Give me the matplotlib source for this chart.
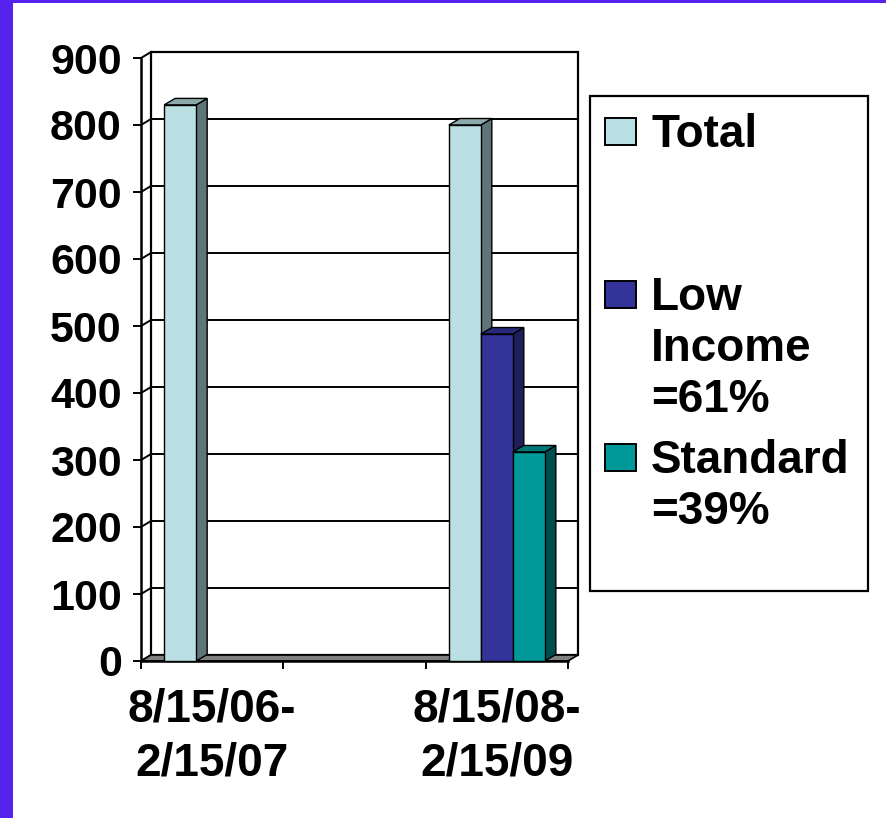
import matplotlib
matplotlib.use('Agg')
import matplotlib.pyplot as plt
from matplotlib.patches import Polygon, Rectangle
import matplotlib.transforms as mtransforms

plt.rcParams['font.family'] = ['Liberation Sans', 'DejaVu Sans']
plt.rcParams['font.weight'] = 'bold'

# ---------------- data ----------------
categories = ['8/15/06-\n2/15/07', '', '8/15/08-\n2/15/09']
series_names = ['Total', 'Low\nIncome\n=61%', 'Standard\n=39%']
total = [830, 0, 800]
low_income = [0, 0, 488]
standard = [0, 0, 312]
y_ticks = [0, 100, 200, 300, 400, 500, 600, 700, 800, 900]

series_values = [total, low_income, standard]
front_colors = ['#BBE0E3', '#333399', '#009999']
side_colors = ['#5E7677', '#1E1E58', '#004F4F']
top_colors = ['#8CA9AB', '#29297C', '#007878']

# ---------------- layout ----------------
W, H = 886, 818
fig = plt.figure(figsize=(W / 100, H / 100), dpi=100)
fig.patch.set_facecolor('white')


def fx(x):
    return x / W


def fy(y):
    return 1 - y / H


ax_l, ax_r, ax_t, ax_b = 141, 568, 58, 661
ax = fig.add_axes([fx(ax_l), fy(ax_b), (ax_r - ax_l) / W, (ax_b - ax_t) / H])
ncat = len(categories)
ymax = y_ticks[-1]
ax.set_xlim(0, ncat)
ax.set_ylim(0, ymax)
ax.patch.set_visible(False)

ux = (ax_r - ax_l) / ncat   # px per category unit
uy = (ax_b - ax_t) / ymax   # px per value unit
wdx, wdy = 10 / ux, 6 / uy        # wall depth
bdx, bdy = 11 / ux, 6.5 / uy      # bar depth
bw = 32 / ux                      # bar width

# back wall
ax.add_patch(Polygon([(wdx, wdy), (ncat + wdx, wdy), (ncat + wdx, ymax + wdy), (wdx, ymax + wdy)],
                     closed=True, fc='white', ec='black', lw=1.6, zorder=0, clip_on=False))
for v in y_ticks[1:]:
    ax.plot([wdx, ncat + wdx], [v + wdy, v + wdy], color='black', lw=1.4, zorder=1, clip_on=False)
# side wall diagonals
for v in y_ticks:
    ax.plot([0, wdx], [v, v + wdy], color='black', lw=1.4, zorder=1, clip_on=False)
# floor
ax.add_patch(Polygon([(0, 0), (ncat, 0), (ncat + wdx, wdy), (wdx, wdy)], closed=True,
                     fc='#808080', ec='black', lw=1.2, zorder=2, clip_on=False))

# bars
for j, vals in enumerate(series_values):
    xs, hs = [], []
    for i, v in enumerate(vals):
        if v > 0:
            xs.append(i + 0.5 - 1.5 * bw + j * bw)
            hs.append(v)
    z = 3 + j
    for x, h in zip(xs, hs):
        ax.add_patch(Polygon([(x + bw, 0), (x + bw + bdx, bdy), (x + bw + bdx, h + bdy), (x + bw, h)],
                             closed=True, fc=side_colors[j], ec='black', lw=1.0, zorder=z, clip_on=False))
        ax.add_patch(Polygon([(x, h), (x + bw, h), (x + bw + bdx, h + bdy), (x + bdx, h + bdy)],
                             closed=True, fc=top_colors[j], ec='black', lw=1.0, zorder=z, clip_on=False))
    ax.bar(xs, hs, width=bw, align='edge', color=front_colors[j], edgecolor='black',
           linewidth=1.0, zorder=z + 0.5, clip_on=False)

# axes / ticks
for s in ['top', 'right']:
    ax.spines[s].set_visible(False)
for s in ['left', 'bottom']:
    ax.spines[s].set_linewidth(1.8)
    ax.spines[s].set_zorder(2.5)
ax.set_yticks(y_ticks)
ax.set_yticklabels([str(v) for v in y_ticks])
ax.tick_params(axis='y', length=5.8, width=1.4, pad=8, labelsize=31)
ax.set_xticks(range(ncat + 1))
ax.set_xticklabels([''] * (ncat + 1))
ax.tick_params(axis='x', length=5.8, width=1.4)
for lab in ax.get_yticklabels():
    lab.set_fontweight('bold')

# category labels
px_tr = mtransforms.Affine2D().scale(1, -1).translate(0, H)
blend = mtransforms.blended_transform_factory(ax.transData, px_tr)
for i, cat in enumerate(categories):
    for k, line in enumerate(cat.split('\n')):
        if line:
            ax.text(i + 0.5, 721 + k * 54, line, transform=blend, ha='center', va='baseline',
                    fontsize=33, fontweight='bold', clip_on=False)

# legend (manual, Excel style)
fig.patches.append(Rectangle((fx(590), fy(591)), (868 - 590) / W, (591 - 96) / H,
                             transform=fig.transFigure, fc='white', ec='black', lw=1.6, zorder=5))
for j, name in enumerate(series_names):
    b = 147 + j * 163
    fig.patches.append(Rectangle((fx(605), fy(b - 2)), 31 / W, 27 / H, transform=fig.transFigure,
                                 fc=front_colors[j], ec='black', lw=1.4, zorder=6))
    for k, line in enumerate(name.split('\n')):
        fig.text(fx(651), fy(b + k * 51), line, ha='left', va='baseline', fontsize=33,
                 fontweight='bold', zorder=7)

# purple frame edges
fig.patches.append(Rectangle((0, 0), 13 / W, 1, transform=fig.transFigure, fc='#5522EE', ec='none', zorder=10))
fig.patches.append(Rectangle((0, 1 - 3 / H), 1, 3 / H, transform=fig.transFigure, fc='#5522EE', ec='none', zorder=10))

fig.savefig('out.png', dpi=100)
